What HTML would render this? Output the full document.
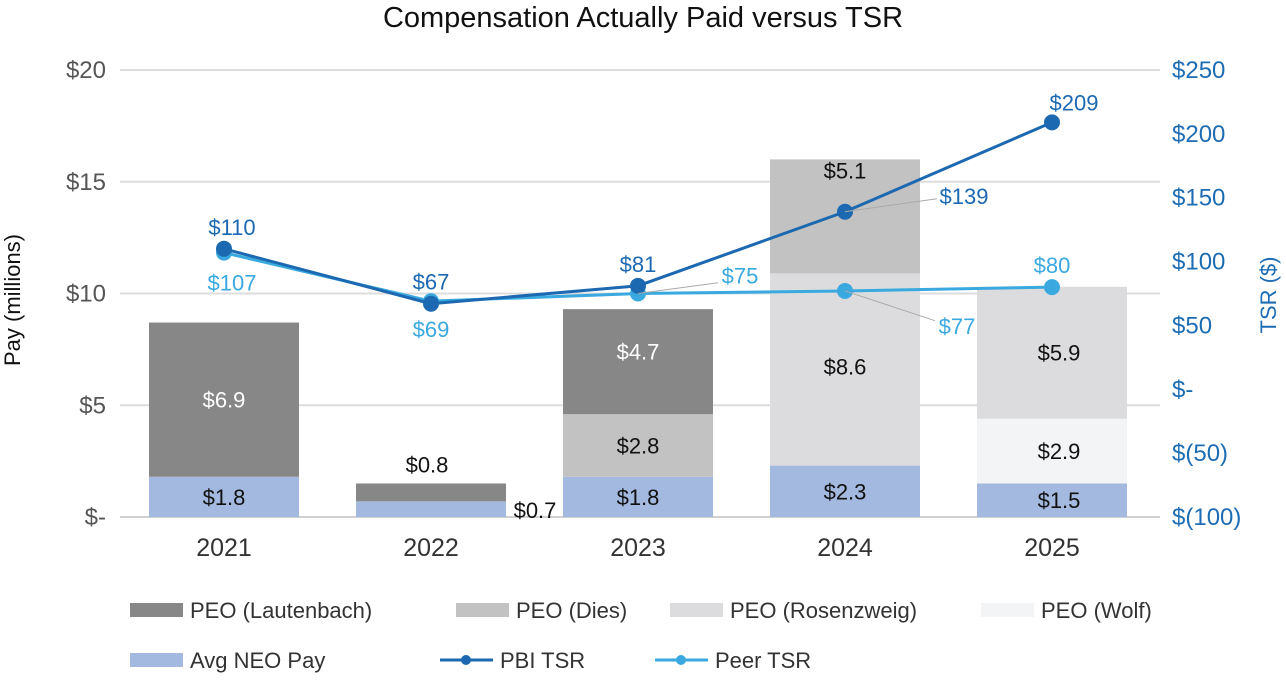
<!DOCTYPE html>
<html><head><meta charset="utf-8"><style>
body{margin:0;background:#fff;font-family:"Liberation Sans",Arial,sans-serif}
svg text{font-family:"Liberation Sans",Arial,sans-serif}
</style></head><body>
<svg id="c" width="1286" height="676" xmlns="http://www.w3.org/2000/svg">
<text x="643" y="27" font-size="29" text-anchor="middle" fill="#111">Compensation Actually Paid versus TSR</text>
<text transform="translate(20,300) rotate(-90)" font-size="22" text-anchor="middle" fill="#111">Pay (millions)</text>
<text transform="translate(1276,295) rotate(-90)" font-size="22" text-anchor="middle" fill="#1e6db3">TSR ($)</text>
<g id="grid"></g><g id="bars"></g><g id="lines"></g><g id="labels"></g><g id="legend"></g>
</svg>
<script>
const years=["2021","2022","2023","2024","2025"];
const avgNeo=[1.8,0.7,1.8,2.3,1.5];
const wolf=[0,0,0,0,2.9];
const rosenzweig=[0,0,0,8.6,5.9];
const dies=[0,0,2.8,5.1,0];
const lautenbach=[6.9,0.8,4.7,0,0];
const pbiTsr=[110,67,81,139,209];
const peerTsr=[107,69,75,77,80];
const leftTicks=[0,5,10,15,20];
const leftTickLabels=["$-","$5","$10","$15","$20"];
const rightTicks=[-100,-50,0,50,100,150,200,250];
const rightTickLabels=["$(100)","$(50)","$-","$50","$100","$150","$200","$250"];

const NS="http://www.w3.org/2000/svg";
const yL=v=>517-v*(447/20);
const yR=v=>517-(v+100)*(447/350);
const xC=i=>224+i*207;
const BW=150;
function mk(tag,attrs,parent,txt){const e=document.createElementNS(NS,tag);for(const k in attrs)e.setAttribute(k,attrs[k]);if(txt!==undefined)e.textContent=txt;document.getElementById(parent).appendChild(e);return e;}

leftTicks.forEach((t,i)=>{
 if(t>0){const g=mk('line',{x1:120,x2:1160,y1:yL(t),y2:yL(t),stroke:'#dddddd','stroke-width':2},'grid');
 
 }
 const l=mk('text',{x:106,y:yL(t)+8,'font-size':24,'text-anchor':'end',fill:'#555'},'grid',leftTickLabels[i]);
 
 
});
const base=mk('line',{x1:120,x2:1160,y1:517,y2:517,stroke:'#d0d0d0','stroke-width':2},'grid');


rightTicks.forEach((t,i)=>{
 const l=mk('text',{x:1172,y:yR(t)+8,'font-size':24,fill:'#1e6db3'},'grid',rightTickLabels[i]);
 
 
});
years.forEach((y,i)=>{
 const l=mk('text',{x:xC(i),y:556,'font-size':25,'text-anchor':'middle',fill:'#333'},'grid',y);
 
 
});

const series=[["avg-neo",avgNeo,"#a3b9df"],["wolf",wolf,"#f3f4f6"],["rosenzweig",rosenzweig,"#dcdcde"],["dies",dies,"#c2c2c2"],["lautenbach",lautenbach,"#878787"]];
years.forEach((y,i)=>{
 let cum=0;
 series.forEach(s=>{
  const v=s[1][i]; if(!v)return;
  const r=mk('rect',{x:xC(i)-BW/2,y:yL(cum+v),width:BW,height:yL(cum)-yL(cum+v),fill:s[2]},'bars');
  
  
  cum+=v;
 });
});

function line(data,color,name){
 const pts=data.map((v,i)=>xC(i)+','+yR(v)).join(' ');
 const p=mk('polyline',{points:pts,fill:'none',stroke:color,'stroke-width':3},'lines');
 
 
 data.forEach((v,i)=>{
  const c=mk('circle',{cx:xC(i),cy:yR(v),r:8,fill:color},'lines');
  
  
 });
}
line(peerTsr,"#3aa9df","peer-tsr");
line(pbiTsr,"#1c69b1","pbi-tsr");

function lab(x,y,t,color,name){
 const l=mk('text',{x:x,y:y+8,'font-size':22,'text-anchor':'middle',fill:color},'labels',t);
 
 
}
function fmt(v){return '$'+v.toFixed(1);}
function barLabel(i,arr,below,color,dx,dy){
 let cum=0;for(const s of below)cum+=s[i];
 const v=arr[i];if(!v)return;
 lab(xC(i)+(dx||0),(yL(cum)+yL(cum+v))/2+(dy||0),fmt(v),color,'bar-value-label');
}
years.forEach((y,i)=>{
 const dx=i==4?7:0;
 if(i!==1){barLabel(i,avgNeo,[],'#111',dx);}
 barLabel(i,wolf,[avgNeo],'#111',dx);
 barLabel(i,rosenzweig,[avgNeo,wolf],'#111',dx,i==3?-3:0);
 barLabel(i,dies,[avgNeo,wolf,rosenzweig],'#111',dx,i==3?-46:0);
 if(i!==1)barLabel(i,lautenbach,[avgNeo,wolf,rosenzweig,dies],i==0||i==2?'#fff':'#111',dx,i==2?-10:0);
});
lab(535,yL(avgNeo[1]/2)+1,fmt(avgNeo[1]),'#111','bar-value-label');
lab(427,yL(avgNeo[1]+lautenbach[1])-19,fmt(lautenbach[1]),'#111','bar-value-label');

const pbiOff=[[8,-22],[0,-22],[0,-22],[119,-16],[22,-20]];
const peerOff=[[8,30],[0,28],[102,-18],[112,35],[0,-22]];
pbiTsr.forEach((v,i)=>{
 if(i==3){const l=mk('line',{x1:xC(i),y1:yR(v),x2:xC(i)+92,y2:yR(v)-13,stroke:'#aaa','stroke-width':1},'labels');}
 lab(xC(i)+pbiOff[i][0],yR(v)+pbiOff[i][1],'$'+v,'#1c69b1','pbi-tsr-label');
});
peerTsr.forEach((v,i)=>{
 if(i==2||i==3){const l=mk('line',{x1:xC(i),y1:yR(v),x2:xC(i)+peerOff[i][0]-22,y2:yR(v)+peerOff[i][1]*(i==3?0.85:0.6),stroke:'#aaa','stroke-width':1},'labels');}
 lab(xC(i)+peerOff[i][0],yR(v)+peerOff[i][1],'$'+v,'#3aa9df','peer-tsr-label');
});

const leg=[["PEO (Lautenbach)","#878787",130,610,"rect"],["PEO (Dies)","#c2c2c2",456,610,"rect"],["PEO (Rosenzweig)","#dcdcde",670,610,"rect"],["PEO (Wolf)","#f3f4f6",981,610,"rect"],["Avg NEO Pay","#a3b9df",130,660,"rect"],["PBI TSR","#1c69b1",440,660,"line"],["Peer TSR","#3aa9df",655,660,"line"]];
leg.forEach(L=>{
 const g=document.createElementNS(NS,'g');
 
 
 document.getElementById('legend').appendChild(g);
 if(L[4]=="rect"){const r=document.createElementNS(NS,'rect');r.setAttribute('x',L[2]);r.setAttribute('y',L[3]-7);r.setAttribute('width',53);r.setAttribute('height',14);r.setAttribute('fill',L[1]);g.appendChild(r);}
 else{const l=document.createElementNS(NS,'line');l.setAttribute('x1',L[2]);l.setAttribute('x2',L[2]+53);l.setAttribute('y1',L[3]);l.setAttribute('y2',L[3]);l.setAttribute('stroke',L[1]);l.setAttribute('stroke-width',3);g.appendChild(l);
  const c=document.createElementNS(NS,'circle');c.setAttribute('cx',L[2]+26);c.setAttribute('cy',L[3]);c.setAttribute('r',5);c.setAttribute('fill',L[1]);g.appendChild(c);}
 const t=document.createElementNS(NS,'text');t.setAttribute('x',L[2]+60);t.setAttribute('y',L[3]+8);t.setAttribute('font-size',22);t.setAttribute('fill','#333');t.textContent=L[0];g.appendChild(t);
});
</script>
</body></html>
